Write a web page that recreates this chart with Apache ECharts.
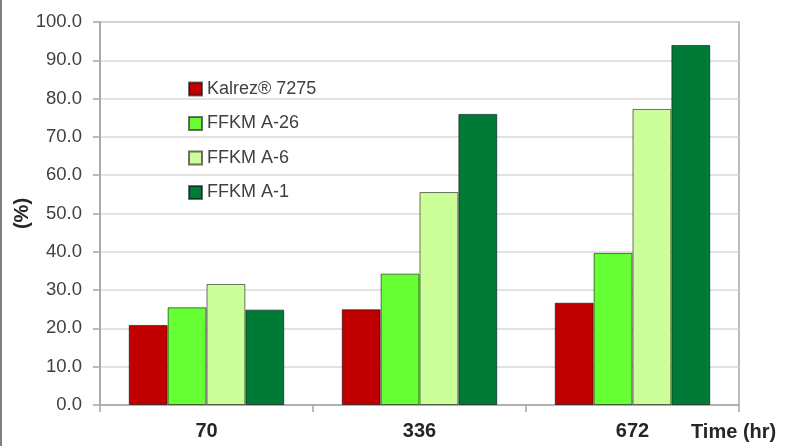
<!DOCTYPE html>
<html>
<head>
<meta charset="utf-8">
<script src="https://cdn.jsdelivr.net/npm/echarts@6/dist/echarts.min.js"></script>
<style>html,body{margin:0;padding:0;background:#fff}#c{width:807px;height:446px}</style>
</head>
<body>
<div id="c"></div>
<script>
const categories = ['70', '336', '672'];
const seriesNames = ['Kalrez® 7275', 'FFKM A-26', 'FFKM A-6', 'FFKM A-1'];
const kalrez7275 = [20.9, 25.0, 26.7];
const ffkmA26 = [25.5, 34.3, 39.7];
const ffkmA6 = [31.6, 55.6, 77.3];
const ffkmA1 = [24.9, 76.0, 94.0];
const colors = ['#C00000', '#66FF33', '#CCFF99', '#007A37'];
const values = [kalrez7275, ffkmA26, ffkmA6, ffkmA1];

const chart = echarts.init(document.getElementById('c'));
chart.setOption({
  animation: false,
  backgroundColor: '#fff',
  grid: { left: 100, right: 68, top: 22, bottom: 41, show: true, borderColor: '#a6a6a6', borderWidth: 1.5, containLabel: false, outerBoundsMode: 'none' },
  legend: {
    orient: 'vertical', left: 188, top: 80, padding: 0, itemWidth: 13, itemHeight: 13, itemGap: 16.5,
    icon: 'rect',
    textStyle: { fontFamily: 'Liberation Sans, Arial', fontSize: 18, color: '#404040' },
    data: seriesNames
  },
  xAxis: {
    type: 'category', data: categories,
    axisLine: { lineStyle: { color: '#a6a6a6', width: 1.5 } },
    axisTick: { show: true, length: 7, lineStyle: { color: '#a6a6a6', width: 1.5 } },
    axisLabel: { margin: 16, fontFamily: 'Liberation Sans, Arial', fontSize: 20, fontWeight: 'bold', color: '#262626' }
  },
  yAxis: {
    type: 'value', min: 0, max: 100, interval: 10,
    name: '(%)', nameLocation: 'middle', nameGap: 68, nameRotate: 90, nameMoveOverlap: false,
    nameTextStyle: { fontFamily: 'Liberation Sans, Arial', fontSize: 20, fontWeight: 'bold', color: '#262626' },
    axisLine: { show: true, lineStyle: { color: '#a6a6a6', width: 1.5 } },
    axisTick: { show: true, length: 7, lineStyle: { color: '#a6a6a6', width: 1.5 } },
    splitLine: { lineStyle: { color: '#d9d9d9', width: 1.5 } },
    axisLabel: { margin: 18, fontFamily: 'Liberation Sans, Arial', fontSize: 18.5, color: '#404040', formatter: v => v.toFixed(1) }
  },
  series: seriesNames.map((n, i) => ({
    name: n, type: 'bar', data: values[i], barGap: '0%', barCategoryGap: '27%',
    itemStyle: { color: colors[i], borderColor: 'rgba(0,0,0,0.55)', borderWidth: 1 }
  })),
  graphic: [
    { type: 'line', shape: { x1: 1, y1: 0, x2: 1, y2: 446 }, style: { stroke: '#808080', lineWidth: 2 } },
    { type: 'text', left: 691, top: 422, style: { text: 'Time (hr)', font: 'bold 20px "Liberation Sans", Arial', fill: '#262626' } }
  ]
});
</script>
</body>
</html>
